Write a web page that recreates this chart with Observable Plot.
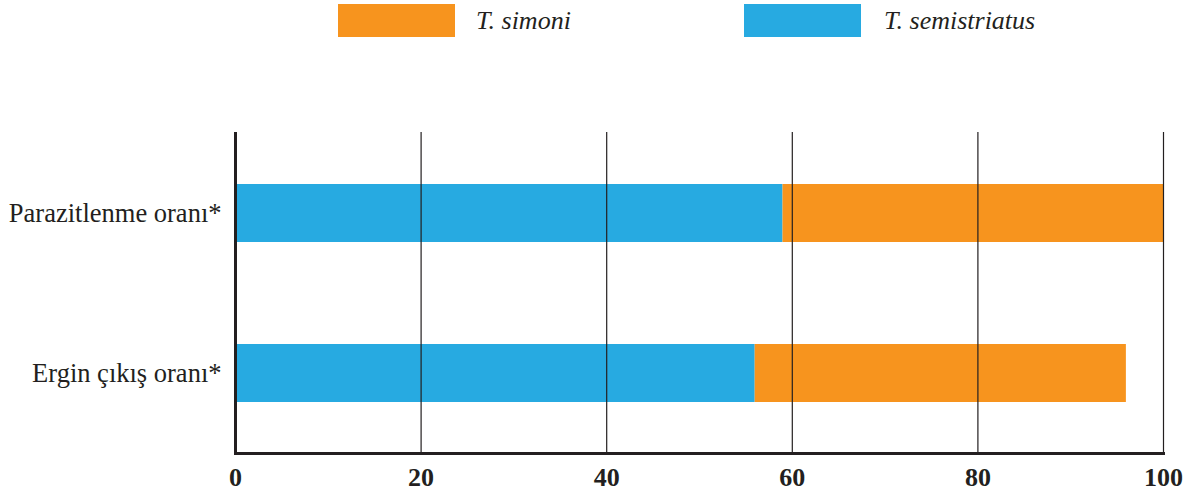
<!DOCTYPE html>
<html><head><meta charset="utf-8">
<script src="https://cdn.jsdelivr.net/npm/d3@7"></script>
<script src="https://cdn.jsdelivr.net/npm/@observablehq/plot@0.6"></script>
<style>
body{margin:0;background:#fff;}
#wrap{position:relative;width:1184px;height:494px;overflow:hidden;}
.sw{position:absolute;top:4px;width:117px;height:33px;}
.lt{position:absolute;top:4px;font-family:"Liberation Serif",serif;font-style:italic;font-size:26px;line-height:33px;color:#231f20;}
#chart{position:absolute;left:0;top:0;}
</style></head><body>
<div id="wrap">
  <div id="legend"></div>
  <div id="chart"></div>
</div>
<script>
const categories = ["Parazitlenme oranı*", "Ergin çıkış oranı*"];
const series = ["T. semistriatus", "T. simoni"];
const semistriatusValues = [59, 56];
const simoniValues = [41, 40];
const xTicks = [0, 20, 40, 60, 80, 100];
const colors = ["#27AAE1", "#F7941E"];
const legendOrder = ["T. simoni", "T. semistriatus"];

const rows = [];
categories.forEach((c, i) => {
  rows.push({category: c, series: series[0], value: semistriatusValues[i]});
  rows.push({category: c, series: series[1], value: simoniValues[i]});
});

// legend
const legend = document.getElementById("legend");
const legendPos = [{sw: 338, tx: 476}, {sw: 744, tx: 884}];
legendOrder.forEach((s, i) => {
  const sw = document.createElement("div");
  sw.className = "sw";
  sw.style.left = legendPos[i].sw + "px";
  sw.style.background = colors[series.indexOf(s)];
  legend.appendChild(sw);
  const t = document.createElement("div");
  t.className = "lt";
  t.style.left = legendPos[i].tx + "px";
  t.textContent = s;
  legend.appendChild(t);
});

const chart = Plot.plot({
  width: 1184,
  height: 494,
  marginTop: 132,
  marginBottom: 41,
  marginLeft: 235,
  marginRight: 21,
  style: {background: "transparent", color: "#231f20"},
  x: {domain: [0, 100], ticks: xTicks, axis: null},
  y: {domain: categories, paddingInner: 0.64, paddingOuter: 0.317, axis: null},
  color: {domain: series, range: colors},
  marks: [
    Plot.barX(rows, Plot.stackX({y: "category", x: "value", fill: "series", z: "series", order: series})),
    Plot.gridX(xTicks.slice(1), {stroke: "#231f20", strokeOpacity: 1, strokeWidth: 1.2}),
    Plot.ruleX([0], {stroke: "#231f20", strokeWidth: 3}),
    Plot.frame({anchor: "bottom", stroke: "#231f20", strokeWidth: 3}),
    Plot.axisX({ticks: xTicks, tickSize: 0, tickPadding: 14, label: null,
      fontFamily: "Liberation Serif", fontWeight: "bold", fontSize: 26, fill: "#231f20"}),
    Plot.axisY({tickSize: 0, tickPadding: 14, label: null,
      fontFamily: "Liberation Serif", fontSize: 26.5, fill: "#231f20"})
  ]
});
document.getElementById("chart").appendChild(chart);
</script>
</body></html>
